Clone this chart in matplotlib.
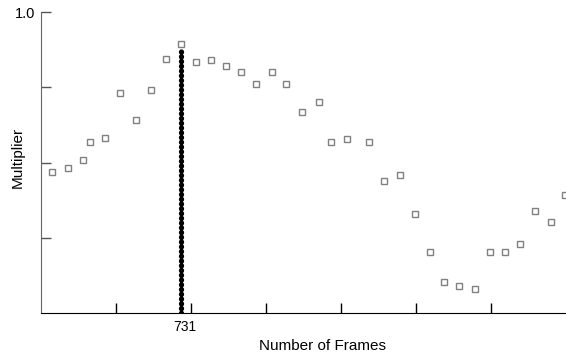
#multiplier vs frames, with the marked frame drawn as a dotted line
import matplotlib.pyplot as plt
from matplotlib.transforms import ScaledTranslation

plt.rcParams['font.family'] = ['Liberation Sans', 'DejaVu Sans']

frames = [473, 505, 535, 549, 579, 609, 641, 671, 701, 731, 761, 791, 821, 851,
          881, 913, 941, 973, 1007, 1031, 1063, 1107, 1137, 1169, 1199, 1229,
          1257, 1287, 1319, 1349, 1379, 1409, 1439, 1471, 1499]
multiplier = [0.787, 0.793, 0.803, 0.827, 0.833, 0.893, 0.857, 0.897, 0.937,
              0.957, 0.933, 0.936, 0.928, 0.920, 0.904, 0.920, 0.904, 0.867,
              0.880, 0.827, 0.831, 0.827, 0.776, 0.783, 0.732, 0.681, 0.641,
              0.636, 0.632, 0.681, 0.681, 0.692, 0.736, 0.721, 0.757]
marked_frame = 731
x_ticks = [601, 751, 901, 1051, 1201, 1351]
y_ticks = [0.7, 0.8, 0.9, 1.0]
y_tick_labels = ['', '', '', '1.0']

fig = plt.figure(figsize=(5.66, 3.54), dpi=100)
ax = fig.add_axes([41 / 566, 41 / 354, 525 / 566, 301 / 354])

ax.plot([marked_frame, marked_frame], [0.6, 0.954], color='black', linewidth=3.8,
        linestyle=(0, (0.05, 0.85)), dash_capstyle='round', zorder=2)
ax.plot(frames, multiplier, linestyle='none', marker='s', markersize=4.3,
        markerfacecolor='white', markeredgecolor='#808080', markeredgewidth=1.0,
        zorder=3)

ax.set_xlim(451, 1501)
ax.set_ylim(0.6, 1.0)

ax.set_xticks(x_ticks)
ax.set_xticklabels([''] * len(x_ticks))
ax.set_xticks([marked_frame], minor=True)
ax.set_xticklabels([str(marked_frame)], minor=True)
ax.tick_params(axis='x', which='major', direction='in', length=7, width=1, color='black')
ax.tick_params(axis='x', which='minor', length=0, pad=5, labelsize=10)
# the 731 label sits a little right of the line in the original
for lab in ax.get_xticklabels(minor=True):
    lab.set_transform(lab.get_transform() + ScaledTranslation(4 / 100, 0, fig.dpi_scale_trans))

ax.set_yticks(y_ticks)
ax.set_yticklabels(y_tick_labels)
ax.tick_params(axis='y', direction='in', length=7, width=1, color='#555555', labelsize=10.5, pad=4)

for side in ['top', 'right']:
    ax.spines[side].set_visible(False)
ax.spines['left'].set_color('#666666')
ax.spines['bottom'].set_color('black')

ax.set_xlabel('Number of Frames', fontsize=11)
ax.set_ylabel('Multiplier', fontsize=11)
ax.xaxis.set_label_coords(0.537, -0.088)
ax.yaxis.set_label_coords(-0.031, 0.518)

plt.savefig('out.png', dpi=100)
